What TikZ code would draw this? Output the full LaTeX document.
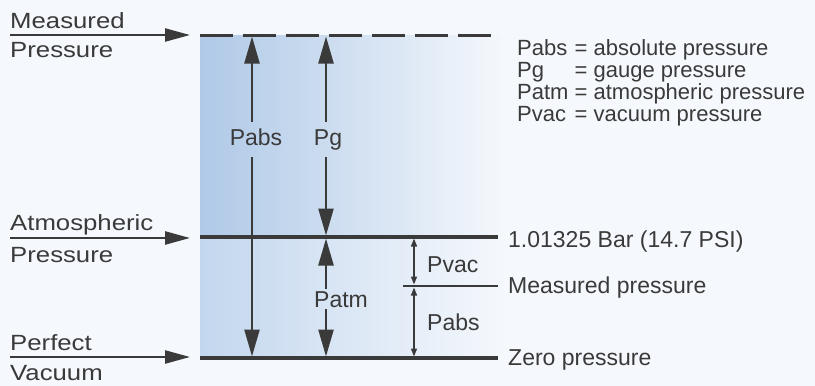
\documentclass[tikz,border=0pt]{standalone}
\usepackage{fontspec}
\setmainfont{Liberation Sans}
\usepackage{calc}
\usetikzlibrary{arrows.meta}
\definecolor{ink}{HTML}{3A3A3A}
\definecolor{bgc}{HTML}{F5F8FC}
\definecolor{blueA}{HTML}{AFC9E7}
\definecolor{blueB}{HTML}{C3D7EE}
\begin{document}
\begin{tikzpicture}[x=1pt,y=-1pt,
  txt/.style={text=ink,font=\fontsize{23}{26}\selectfont,inner sep=0pt},
  lefttxt/.style={text=ink,font=\fontsize{22}{26}\selectfont,inner sep=0pt,anchor=base west},
  legtxt/.style={text=ink,font=\fontsize{22}{26}\selectfont,inner sep=0pt,anchor=base west},
  midlab/.style={txt,anchor=base,text height=16pt,text depth=5pt,inner ysep=7pt,inner xsep=2pt},
  tightlab/.style={txt,anchor=base,text height=16pt,text depth=0pt,inner ysep=1.5pt,inner xsep=2pt},
  level/.style={draw=ink,line width=3.2pt},
  thinlevel/.style={draw=ink,line width=2pt},
  dashlevel/.style={draw=ink,line width=3pt,dash pattern=on 33pt off 10pt},
  bigarrow/.style={draw=ink,line width=2.4pt,-{Triangle[length=27pt,width=15pt]},shorten >=1.5pt},
  leftarrow/.style={draw=ink,line width=2.4pt,-{Triangle[length=25pt,width=13pt]},shorten >=12pt},
  smallarrow/.style={draw=ink,line width=1.5pt,{Triangle[length=8pt,width=6pt]}-{Triangle[length=8pt,width=6pt]},shorten >=1.5pt,shorten <=1.5pt}
]
\fill[bgc] (0,0) rectangle (815,386);
\useasboundingbox (0,0) rectangle (815,386);

% shaded region
\shade[left color=blueA,right color=bgc] (200,35) rectangle (505,237);
\shade[left color=blueB,right color=bgc] (200,237) rectangle (505,358);

% level coordinates
\coordinate (mpL) at (200,35);
\coordinate (mpR) at (496,35);
\coordinate (atL) at (200,237);
\coordinate (atR) at (498,237);
\coordinate (mvL) at (403,286);
\coordinate (mvR) at (498,286);
\coordinate (zL) at (200,358);
\coordinate (zR) at (498,358);

% levels
\draw[dashlevel] (mpL) -- (mpR);
\draw[level] (atL) -- (atR);
\draw[thinlevel] (mvL) -- (mvR);
\draw[level] (zL) -- (zR);

% left labels with arrows
\coordinate (la1) at (10,35);
\coordinate (la2) at (10,238);
\coordinate (la3) at (10,357);
\coordinate (lt1) at (202,35);
\coordinate (lt2) at (202,238);
\coordinate (lt3) at (202,357);
\draw[leftarrow] (la1) -- (lt1);
\draw[leftarrow] (la2) -- (lt2);
\draw[leftarrow] (la3) -- (lt3);
\node[lefttxt] (tMeas) at (10,28) {\scalebox{1.17}[1]{Measured}};
\node[lefttxt] (tPress1) at (10,57) {\scalebox{1.17}[1]{Pressure}};
\node[lefttxt] (tAtm) at (10,230) {\scalebox{1.17}[1]{Atmospheric}};
\node[lefttxt] (tPress2) at (10,262) {\scalebox{1.17}[1]{Pressure}};
\node[lefttxt] (tPerf) at (10,350) {\scalebox{1.17}[1]{Perfect}};
\node[lefttxt] (tVac) at (10,380) {\scalebox{1.17}[1]{Vacuum}};

% vertical arrow end points
\coordinate (pabsT) at (252,35);
\coordinate (pabsB) at (252,358);
\coordinate (pgT) at (326,35);
\coordinate (pgB) at (326,237);
\coordinate (patmB) at (326,358);
\coordinate (pvT) at (414,237);
\coordinate (pvM) at (414,286);
\coordinate (pvB) at (414,358);

% mid labels
\node[midlab] (labPabs) at (256,145) {Pabs};
\node[midlab] (labPg) at (328,145) {Pg};
\node[tightlab] (labPatm) at (341,307) {Patm};

\draw[bigarrow] (labPabs.north -| pabsT) -- (pabsT);
\draw[bigarrow] (labPabs.south -| pabsB) -- (pabsB);
\draw[bigarrow] (labPg.north -| pgT) -- (pgT);
\draw[bigarrow] (labPg.south -| pgB) -- (pgB);
\draw[bigarrow] (labPatm.north -| pgB) -- (pgB);
\draw[bigarrow] (labPatm.south -| patmB) -- (patmB);

% small arrows
\draw[smallarrow] (pvT) -- (pvM);
\draw[smallarrow] (pvM) -- (pvB);
\node[txt,anchor=base west] (labPvac) at (427,272) {Pvac};
\node[txt,anchor=base west] (labPabs2) at (427,330) {Pabs};

% right labels
\node[txt,anchor=base west] (rAtm) at (508,247) {1.01325 Bar (14.7 PSI)};
\node[txt,anchor=base west] (rMeas) at (508,293) {Measured pressure};
\node[txt,anchor=base west] (rZero) at (508,365) {Zero pressure};

% legend
\node[legtxt] (lg1) at (517,55) {\makebox[\widthof{Patm\ }][l]{Pabs}= absolute pressure};
\node[legtxt] (lg2) at (517,77) {\makebox[\widthof{Patm\ }][l]{Pg}= gauge pressure};
\node[legtxt] (lg3) at (517,99) {\makebox[\widthof{Patm\ }][l]{Patm}= atmospheric pressure};
\node[legtxt] (lg4) at (517,121) {\makebox[\widthof{Patm\ }][l]{Pvac}= vacuum pressure};
\end{tikzpicture}
\end{document}
